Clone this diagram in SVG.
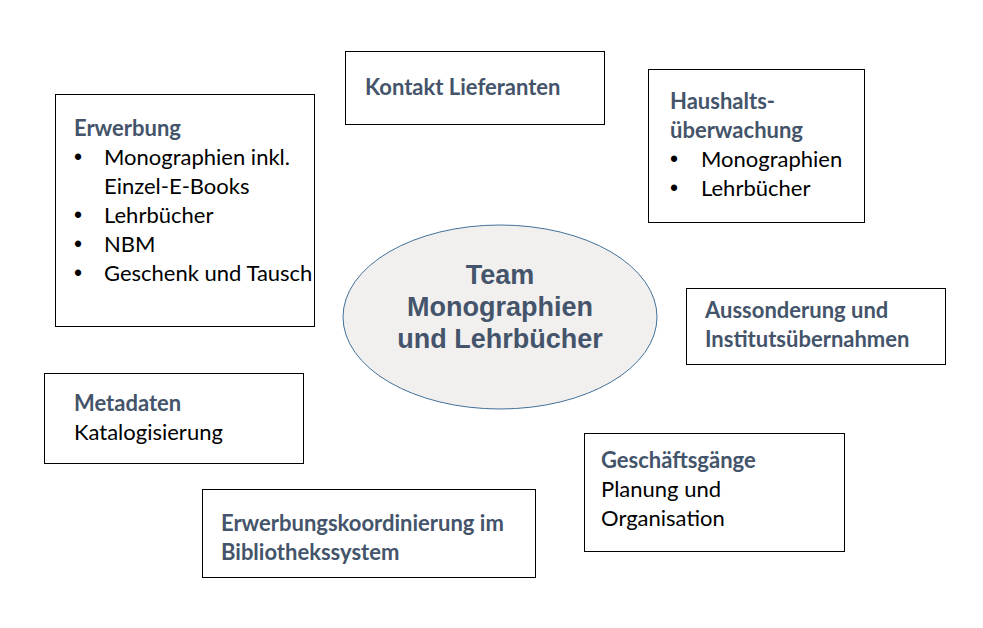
<svg xmlns="http://www.w3.org/2000/svg" width="983" height="628" viewBox="0 0 983 628">
<style>
.box{fill:#fff;stroke:#000;stroke-width:1}
.h{font-family:Lato,"Open Sans",sans-serif;font-weight:bold;font-size:22px;fill:#44546A}
.t{font-family:Lato,"Open Sans",sans-serif;font-size:22px;fill:#000}
.b{font-family:"Liberation Sans",Arial,sans-serif;font-size:23px;fill:#000}
.title{font-family:"Liberation Sans",Arial,sans-serif;font-weight:bold;font-size:27px;fill:#44546A;text-anchor:middle}
</style>
<rect width="983" height="628" fill="#fff"/>
<g id="center">
<ellipse cx="500" cy="317" rx="157" ry="92" fill="#F2F0EF" stroke="#41719C" stroke-width="1"/>
<text class="title" x="500" y="284">Team</text>
<text class="title" x="500" y="316">Monographien</text>
<text class="title" x="500" y="348">und Lehrbücher</text>
</g>
<g id="erwerbung">
<rect class="box" x="55.5" y="94.5" width="259" height="232"/>
<text class="h" x="74" y="136">Erwerbung</text>
<text class="b" x="74" y="165">•</text><text class="t" x="104" y="165">Monographien inkl.</text>
<text class="t" x="104" y="194">Einzel-E-Books</text>
<text class="b" x="74" y="223">•</text><text class="t" x="104" y="223">Lehrbücher</text>
<text class="b" x="74" y="252">•</text><text class="t" x="104" y="252">NBM</text>
<text class="b" x="74" y="281">•</text><text class="t" x="104" y="281">Geschenk und Tausch</text>
</g>
<g id="kontakt">
<rect class="box" x="345.5" y="51.5" width="259" height="73"/>
<text class="h" x="365" y="95">Kontakt Lieferanten</text>
</g>
<g id="haushalt">
<rect class="box" x="648.5" y="69.5" width="216" height="153"/>
<text class="h" x="670" y="109">Haushalts-</text>
<text class="h" x="670" y="138">überwachung</text>
<text class="b" x="670" y="167">•</text><text class="t" x="701" y="167">Monographien</text>
<text class="b" x="670" y="196">•</text><text class="t" x="701" y="196">Lehrbücher</text>
</g>
<g id="aussonderung">
<rect class="box" x="686.5" y="288.5" width="259" height="76"/>
<text class="h" x="705" y="318">Aussonderung und</text>
<text class="h" x="705" y="347">Institutsübernahmen</text>
</g>
<g id="metadaten">
<rect class="box" x="44.5" y="373.5" width="259" height="90"/>
<text class="h" x="74" y="411">Metadaten</text>
<text class="t" x="74" y="440">Katalogisierung</text>
</g>
<g id="geschaeftsgaenge">
<rect class="box" x="584.5" y="433.5" width="260" height="118"/>
<text class="h" x="601" y="468">Geschäftsgänge</text>
<text class="t" x="601" y="497">Planung und</text>
<text class="t" x="601" y="526">Organisation</text>
</g>
<g id="koordinierung">
<rect class="box" x="202.5" y="489.5" width="333" height="88"/>
<text class="h" x="221" y="531">Erwerbungskoordinierung im</text>
<text class="h" x="221" y="560">Bibliothekssystem</text>
</g>
<g id="connectors"/>
</svg>
